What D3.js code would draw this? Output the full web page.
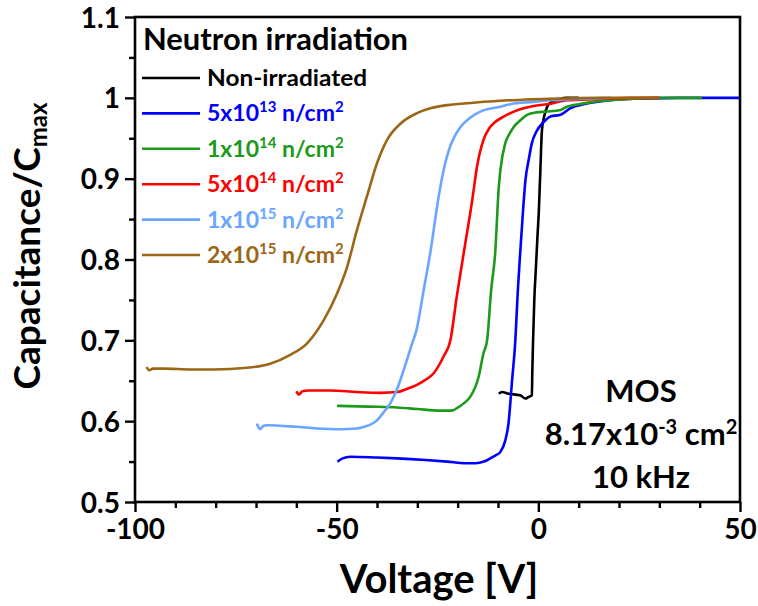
<!DOCTYPE html>
<html>
<head>
<meta charset="utf-8">
<script src="https://d3js.org/d3.v7.min.js"></script>
<style>
  body { margin: 0; background: #fff; }
  svg text { font-family: Lato, "Open Sans", sans-serif; font-weight: 700; }
</style>
</head>
<body>
<div id="chart"></div>
<script>
// C-V curves, normalised capacitance vs gate voltage
const nonIrrV = [-9.8,-9.0,-7.4,-4.5,-3.2,-2.4,-1.6,-1.5,-1.3,-1.0,-0.6,-0.2,0.1,0.5,0.9,1.5,2.2,3,3.8,5,7,10];
const nonIrrC = [0.634,0.636,0.634,0.632,0.628,0.630,0.632,0.66,0.70,0.75,0.79,0.83,0.857,0.91,0.96,0.978,0.989,0.994,0.996,0.998,1.0,1.0];

const f5e13V = [-49.8,-48.5,-46.6,-40,-35,-28,-22.6,-18,-15.6,-13.5,-11.9,-10.5,-9.4,-8.2,-7.4,-6.5,-5.7,-5.1,-4.5,-3.8,-3.2,-2.4,-1.6,-0.5,1.3,3,5.5,7.9,12.1,16,19.5,25,35,50];
const f5e13C = [0.550,0.554,0.556,0.555,0.554,0.552,0.550,0.548,0.548,0.550,0.554,0.558,0.562,0.576,0.597,0.651,0.70,0.76,0.808,0.86,0.898,0.923,0.944,0.958,0.970,0.977,0.979,0.987,0.993,0.996,0.998,0.999,1.0,1.0];

const f1e14V = [-49.9,-42,-35,-30,-24.3,-21.5,-20.2,-18.5,-16.9,-14.8,-13.6,-12.7,-11.7,-10.7,-9.8,-9.4,-8.2,-7.2,-6.1,-4.5,-2.8,-0.5,2.2,5.5,7.1,10,13.7,18,23.6,30,40.6];
const f1e14C = [0.619,0.618,0.617,0.615,0.613,0.613,0.616,0.622,0.630,0.655,0.684,0.70,0.762,0.808,0.890,0.911,0.944,0.955,0.964,0.972,0.979,0.982,0.983,0.985,0.989,0.992,0.995,0.997,0.999,1.0,1.0];

const f5e14V = [-60,-59.3,-58.5,-57,-51.6,-45,-39.2,-35,-32.5,-30.1,-28,-26,-23.5,-21.8,-20.2,-18.5,-16.4,-15.2,-13.6,-12.2,-10.7,-8.5,-6.1,-1.2,2.2,7.1,12,17,23,30];
const f5e14C = [0.637,0.633,0.637,0.638,0.638,0.636,0.635,0.636,0.640,0.645,0.651,0.659,0.680,0.70,0.755,0.808,0.873,0.915,0.948,0.962,0.970,0.977,0.983,0.990,0.992,0.997,0.998,0.999,1.0,1.0];

const f1e15V = [-69.8,-69.3,-69,-68.2,-67.3,-60,-55,-49.1,-45,-43.3,-41.5,-40,-38.5,-36.7,-35,-33.4,-31.3,-30.2,-28.5,-26.8,-24.7,-23.5,-22.2,-20.8,-19.3,-17,-14.4,-9.4,-6.1,-1.2,3,7.1,12,18];
const f1e15C = [0.597,0.592,0.590,0.594,0.595,0.593,0.591,0.590,0.591,0.593,0.596,0.601,0.610,0.622,0.640,0.663,0.696,0.713,0.760,0.808,0.878,0.910,0.935,0.952,0.964,0.975,0.983,0.989,0.993,0.995,0.997,0.998,0.999,1.0];

const f2e15V = [-97.1,-96.5,-95.5,-92.9,-86,-80.5,-72.2,-66.5,-61.5,-57.4,-53.2,-49.9,-47.4,-45,-42.5,-40,-37.5,-34.2,-30.1,-26.8,-22.6,-16,-10.2,-3,5.5,15,22,30];
const f2e15C = [0.667,0.663,0.665,0.665,0.664,0.664,0.666,0.671,0.682,0.696,0.725,0.758,0.791,0.836,0.878,0.919,0.948,0.968,0.981,0.987,0.991,0.994,0.996,0.998,0.999,1.0,1.0,1.0];

// legend: [mantissa, exponent] ; first entry has no fluence
const seriesNames = ["Non-irradiated", ["5x10", "13"], ["1x10", "14"], ["5x10", "14"], ["1x10", "15"], ["2x10", "15"]];
const seriesColors = ["#000000", "#0000ff", "#1b9a1b", "#ff0000", "#6aa6ff", "#9b6715"];
const seriesV = [nonIrrV, f5e13V, f1e14V, f5e14V, f1e15V, f2e15V];
const seriesC = [nonIrrC, f5e13C, f1e14C, f5e14C, f1e15C, f2e15C];

const xTicks = [-100, -50, 0, 50];
const yTicks = [0.5, 0.6, 0.7, 0.8, 0.9, 1, 1.1];

const W = 758, H = 606;
const svg = d3.select("#chart").append("svg").attr("width", W).attr("height", H);

const x = d3.scaleLinear().domain([-100, 50]).range([135, 740]);
const y = d3.scaleLinear().domain([0.5, 1.1]).range([502, 17]);

// curves
const line = d3.line().x(d => x(d[0])).y(d => y(d[1])).curve(d3.curveMonotoneX);
seriesV.forEach((vs, i) => {
  const pts = vs.map((v, j) => [v, seriesC[i][j]]);
  svg.append("path")
    .attr("d", line(pts))
    .attr("fill", "none")
    .attr("stroke", seriesColors[i])
    .attr("stroke-width", 2.6)
    .attr("stroke-linejoin", "round");
});

// frame
svg.append("rect")
  .attr("x", x(-100)).attr("y", y(1.1))
  .attr("width", x(50) - x(-100)).attr("height", y(0.5) - y(1.1))
  .attr("fill", "none").attr("stroke", "#000").attr("stroke-width", 2.6);

// axes
const xAxis = svg.append("g").attr("transform", `translate(0,${y(0.5)})`)
  .call(d3.axisBottom(x).tickValues(xTicks).tickFormat(d => String(d)).tickSize(10).tickPadding(7));
svg.append("g").attr("transform", `translate(0,${y(0.5)})`)
  .call(d3.axisBottom(x).tickValues(d3.range(-90, 50, 10).filter(v => v % 50 !== 0)).tickFormat("").tickSize(6));

const yAxis = svg.append("g").attr("transform", `translate(${x(-100)},0)`)
  .call(d3.axisLeft(y).tickValues(yTicks).tickFormat(d => String(d)).tickSize(10).tickPadding(5));
svg.append("g").attr("transform", `translate(${x(-100)},0)`)
  .call(d3.axisLeft(y).tickValues([0.55, 0.65, 0.75, 0.85, 0.95, 1.05]).tickFormat("").tickSize(6));

svg.selectAll(".domain").remove();
svg.selectAll(".tick line").attr("stroke", "#000").attr("stroke-width", 2.4);
xAxis.selectAll("text").attr("font-size", 28).attr("fill", "#000").attr("dy", "0.72em");
yAxis.selectAll("text").attr("font-size", 28).attr("fill", "#000").attr("dy", "0.36em");

// axis titles
svg.append("text")
  .attr("x", 439).attr("y", 593)
  .attr("text-anchor", "middle").attr("font-size", 40)
  .text("Voltage [V]");

const yt = svg.append("text")
  .attr("transform", "translate(40,246) rotate(-90)")
  .attr("text-anchor", "middle").attr("font-size", 37);
yt.append("tspan").text("Capacitance/C");
yt.append("tspan").attr("font-size", 24).attr("dy", 7).text("max");

// legend
svg.append("text").attr("x", 143).attr("y", 50).attr("font-size", 30)
  .attr("textLength", 265).attr("lengthAdjust", "spacingAndGlyphs")
  .text("Neutron irradiation");
seriesNames.forEach((name, i) => {
  const ry = 78 + i * 35.4;
  svg.append("line")
    .attr("x1", 142).attr("x2", 200).attr("y1", ry).attr("y2", ry)
    .attr("stroke", seriesColors[i]).attr("stroke-width", 2.6);
  const t = svg.append("text").attr("x", 207).attr("y", ry + 8)
    .attr("font-size", 23).attr("fill", seriesColors[i]);
  if (typeof name === "string") {
    t.attr("textLength", 160).attr("lengthAdjust", "spacingAndGlyphs").text(name);
  } else {
    t.append("tspan").text(name[0]);
    t.append("tspan").attr("font-size", 15).attr("dy", -9).text(name[1]);
    t.append("tspan").attr("dy", 9).text(" n/cm");
    t.append("tspan").attr("font-size", 15).attr("dy", -9).text("2");
  }
});

// device annotation
const ax = 641;
svg.append("text").attr("x", ax).attr("y", 402).attr("text-anchor", "middle").attr("font-size", 31).text("MOS");
const a2 = svg.append("text").attr("x", ax).attr("y", 445).attr("text-anchor", "middle").attr("font-size", 31);
a2.append("tspan").text("8.17x10");
a2.append("tspan").attr("font-size", 20).attr("dy", -11).text("-3");
a2.append("tspan").attr("dy", 11).text(" cm");
a2.append("tspan").attr("font-size", 20).attr("dy", -11).text("2");
svg.append("text").attr("x", ax).attr("y", 488).attr("text-anchor", "middle").attr("font-size", 31).text("10 kHz");
</script>
</body>
</html>
